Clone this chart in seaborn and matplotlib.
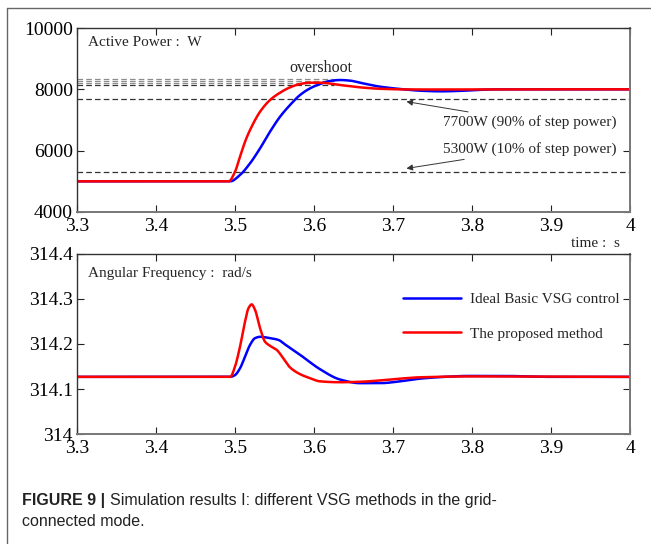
import numpy as np
import pandas as pd
import seaborn as sns
import matplotlib.pyplot as plt
from matplotlib.lines import Line2D

sns.set_theme(style="white")
plt.rcParams['font.family'] = ['Liberation Serif', 'DejaVu Serif']

# ---------------- data ----------------
# Active power (W)
p_time_b = [3.30, 3.494, 3.5063, 3.519, 3.5317, 3.5443, 3.557, 3.5696, 3.5823, 3.595,
            3.6076, 3.620, 3.633, 3.646, 3.658, 3.6836, 3.709, 3.735, 3.760, 3.785,
            3.810, 3.835, 3.90, 4.00]
p_basic = [5000, 5000, 5207, 5587, 6076, 6620, 7108, 7489, 7815, 8033,
           8174, 8272, 8304, 8283, 8217, 8087, 8011, 7955, 7935, 7950,
           7985, 8000, 8000, 8000]
p_time_r = [3.30, 3.492, 3.500, 3.5063, 3.5127, 3.519, 3.5317, 3.5443, 3.557, 3.5696,
            3.5823, 3.595, 3.6076, 3.633, 3.658, 3.6836, 3.709, 3.740, 3.80, 4.00]
p_prop = [5000, 5000, 5314, 5803, 6293, 6674, 7271, 7652, 7891, 8065,
          8174, 8217, 8217, 8141, 8065, 8018, 8000, 7995, 8000, 8000]

# Angular frequency (rad/s)
w_time_b = [3.30, 3.494, 3.500, 3.5063, 3.5127, 3.519, 3.5253, 3.5317, 3.5443, 3.555,
            3.5633, 3.5823, 3.6076, 3.633, 3.658, 3.6836, 3.709, 3.734, 3.765, 3.795,
            3.84, 3.90, 4.00]
w_basic = [314.127, 314.127, 314.131, 314.146, 314.172, 314.198, 314.213, 314.216, 314.213, 314.209,
           314.199, 314.176, 314.144, 314.121, 314.113, 314.113, 314.117, 314.123, 314.127, 314.129,
           314.129, 314.127, 314.127]
w_time_r = [3.30, 3.494, 3.500, 3.5063, 3.5127, 3.5169, 3.5211, 3.5253, 3.5317, 3.538,
            3.5443, 3.5527, 3.5612, 3.5696, 3.5823, 3.595, 3.6076, 3.633, 3.658, 3.6836,
            3.709, 3.734, 3.80, 4.00]
w_prop = [314.127, 314.127, 314.150, 314.194, 314.250, 314.279, 314.288, 314.276, 314.235, 314.205,
          314.196, 314.187, 314.168, 314.148, 314.133, 314.124, 314.117, 314.115, 314.116, 314.119,
          314.123, 314.126, 314.128, 314.127]

peak_levels = [8330, 8275, 8220, 8135]
peak_colors = ['#8c8c8c', '#8c8c8c', '#8c8c8c', '#333333']
ref_levels = [7700, 5300]
ref_labels = ['7700W (90% of step power)', '5300W (10% of step power)']

x_ticks = [3.3, 3.4, 3.5, 3.6, 3.7, 3.8, 3.9, 4.0]
x_ticklabels = ['3.3', '3.4', '3.5', '3.6', '3.7', '3.8', '3.9', '4']
p_ticks = [4000, 6000, 8000, 10000]
w_ticks = [314.0, 314.1, 314.2, 314.3, 314.4]
w_ticklabels = ['314', '314.1', '314.2', '314.3', '314.4']

series_names = ['Ideal Basic VSG control', 'The proposed method']
colors = ['#0000ff', '#ff0000']


def smooth(xs, ys, n=1500):
    """Monotone cubic (PCHIP) curve through the read points."""
    xs = np.asarray(xs, float)
    ys = np.asarray(ys, float)
    h = np.diff(xs)
    d = np.diff(ys) / h
    m = np.zeros_like(ys)
    for k in range(1, len(xs) - 1):
        if d[k - 1] * d[k] > 0:
            w1 = 2 * h[k] + h[k - 1]
            w2 = h[k] + 2 * h[k - 1]
            m[k] = (w1 + w2) / (w1 / d[k - 1] + w2 / d[k])
    xx = np.linspace(xs[0], xs[-1], n)
    idx = np.clip(np.searchsorted(xs, xx, side='right') - 1, 0, len(xs) - 2)
    t = (xx - xs[idx]) / h[idx]
    h00 = 2 * t**3 - 3 * t**2 + 1
    h10 = t**3 - 2 * t**2 + t
    h01 = -2 * t**3 + 3 * t**2
    h11 = t**3 - t**2
    yy = h00 * ys[idx] + h10 * h[idx] * m[idx] + h01 * ys[idx + 1] + h11 * h[idx] * m[idx + 1]
    return xx, yy


def build(items):
    frames = []
    for name, xs, ys in items:
        xx, yy = smooth(xs, ys)
        frames.append(pd.DataFrame({'time': xx, 'value': yy, 'method': name}))
    return pd.concat(frames, ignore_index=True)


df_p = build([(series_names[0], p_time_b, p_basic), (series_names[1], p_time_r, p_prop)])
df_w = build([(series_names[0], w_time_b, w_basic), (series_names[1], w_time_r, w_prop)])

palette = dict(zip(series_names, colors))

fig = plt.figure(figsize=(6.51, 5.44), dpi=100)
ax1 = fig.add_axes([0.1183, 0.6103, 0.8495, 0.3382])
ax2 = fig.add_axes([0.1183, 0.2022, 0.8495, 0.3309])

# ---- top panel ----
for lvl, c in zip(peak_levels, peak_colors):
    ax1.plot([3.3, 3.625], [lvl, lvl], ls=(0, (4.5, 2.5)), color=c, lw=0.9, zorder=1)
for lvl in ref_levels:
    ax1.axhline(lvl, ls=(0, (4.5, 2.5)), color='#333333', lw=0.9, zorder=1)

sns.lineplot(data=df_p, x='time', y='value', hue='method', palette=palette,
             hue_order=series_names, linewidth=1.8, ax=ax1, legend=False,
             sort=False, estimator=None)

ax1.text(0.019, 0.955, 'Active Power :  W', transform=ax1.transAxes, fontsize=11,
         va='top', ha='left')
ax1.text(3.609, 8700, 'overshoot', fontsize=11.5, ha='center', va='center')
ax1.annotate(ref_labels[0], xy=(3.717, 7600), xytext=(3.763, 6930), fontsize=11,
             va='center', ha='left',
             arrowprops=dict(arrowstyle='-|>', color='#333333', lw=0.7,
                             mutation_scale=9, shrinkA=0, shrinkB=0))
ax1.annotate(ref_labels[1], xy=(3.717, 5420), xytext=(3.763, 6050), fontsize=11,
             va='center', ha='left',
             arrowprops=dict(arrowstyle='-|>', color='#333333', lw=0.7,
                             mutation_scale=9, shrinkA=0, shrinkB=0))

ax1.set_xlim(3.3, 4.0)
ax1.set_ylim(4000, 10000)
ax1.set_yticks(p_ticks)
ax1.set_yticklabels([str(t) for t in p_ticks])
ax1.set_xticks(x_ticks)
ax1.set_xticklabels(x_ticklabels)
ax1.set_xlabel('')
ax1.set_ylabel('')
fig.text(0.952, 0.553, 'time :  s', fontsize=11, ha='right', va='center')

# ---- bottom panel ----
sns.lineplot(data=df_w, x='time', y='value', hue='method', palette=palette,
             hue_order=series_names, linewidth=1.8, ax=ax2, legend=False,
             sort=False, estimator=None)
ax2.text(0.019, 0.925, 'Angular Frequency :  rad/s', transform=ax2.transAxes, fontsize=11,
         va='top', ha='left')
handles = [Line2D([], [], color=c, lw=1.8) for c in colors]
ax2.legend(handles, series_names, loc='upper left', bbox_to_anchor=(0.589, 0.785),
           frameon=False, fontsize=11, handlelength=3.8, handletextpad=0.6,
           labelspacing=1.35, borderpad=0, borderaxespad=0)
ax2.set_xlim(3.3, 4.0)
ax2.set_ylim(314.0, 314.4)
ax2.set_yticks(w_ticks)
ax2.set_yticklabels(w_ticklabels)
ax2.set_xticks(x_ticks)
ax2.set_xticklabels(x_ticklabels)
ax2.set_xlabel('')
ax2.set_ylabel('')

for ax in (ax1, ax2):
    ax.tick_params(axis='both', which='both', direction='in', length=5, width=0.8,
                   top=True, right=True, bottom=True, left=True,
                   labelsize=14, colors='#222222', labelcolor='black')
    ax.tick_params(axis='x', pad=4)
    ax.tick_params(axis='y', pad=3)
    for side in ('top', 'left'):
        ax.spines[side].set_color('#333333')
        ax.spines[side].set_linewidth(1.0)
    for side in ('bottom', 'right'):
        ax.spines[side].set_color('#777777')
        ax.spines[side].set_linewidth(1.4)
    ax.set_facecolor('white')

# figure frame lines (top and left)
fig.add_artist(Line2D([0.011, 1.0], [1 - 7.5 / 544, 1 - 7.5 / 544], color='#666666', lw=1.0,
                      transform=fig.transFigure))
fig.add_artist(Line2D([0.011, 0.011], [0, 1 - 7.5 / 544], color='#666666', lw=1.0,
                      transform=fig.transFigure))

# caption
cap_font = ['Liberation Sans', 'DejaVu Sans']
t1 = fig.text(0.034, 1 - 500 / 544, 'FIGURE 9 | ', fontsize=11.5, fontweight='bold',
              family=cap_font, va='center', ha='left', color='#222222')
fig.canvas.draw()
bb = t1.get_window_extent()
x_next = bb.x1 / fig.bbox.width
fig.text(x_next, 1 - 500 / 544, 'Simulation results I: different VSG methods in the grid-',
         fontsize=11.5, family=cap_font, va='center', ha='left', color='#222222')
fig.text(0.034, 1 - 522 / 544, 'connected mode.', fontsize=11.5, family=cap_font,
         va='center', ha='left', color='#222222')

fig.savefig('out.png', dpi=100, facecolor='white')
